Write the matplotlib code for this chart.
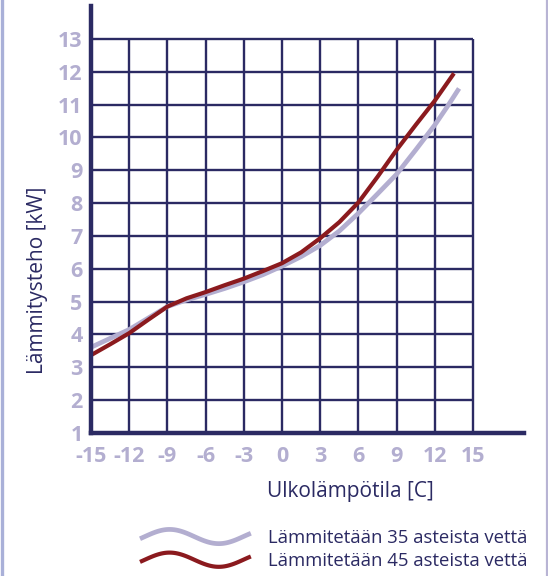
import numpy as np
import matplotlib
matplotlib.use('Agg')
from matplotlib import pyplot as plt
from matplotlib.lines import Line2D
from matplotlib.legend_handler import HandlerBase

NAVY = '#2b2a63'
LILA = '#b3aed0'
RED = '#8b1a1e'

# luettu kuvasta
x35 = [-15, -13.5, -12, -10.5, -9, -7.5, -6, -4.5, -3, -1.5, 0, 1.5, 3,
       4.5, 6, 7.5, 9, 10.5, 12, 13, 13.9]
y35 = [3.61, 3.88, 4.15, 4.5, 4.85, 5.05, 5.22, 5.4, 5.6, 5.82, 6.08, 6.37,
       6.71, 7.15, 7.69, 8.28, 8.88, 9.62, 10.38, 10.95, 11.49]
x45 = [-15, -13.5, -12, -10.5, -9, -7.5, -6, -4.5, -3, -1.5, 0, 1.5, 3,
       4.5, 6, 7.5, 9, 10.5, 12, 13.5]
y45 = [3.37, 3.7, 4.04, 4.45, 4.85, 5.1, 5.29, 5.5, 5.7, 5.93, 6.17, 6.5,
       6.93, 7.42, 8.02, 8.8, 9.62, 10.38, 11.12, 11.95]
xticks = [-15, -12, -9, -6, -3, 0, 3, 6, 9, 12, 15]
yticks = list(range(1, 14))
labels = ['Lämmitetään 35 asteista vettä', 'Lämmitetään 45 asteista vettä']


class WaveHandler(HandlerBase):
    # aaltoviiva legendaan
    def create_artists(self, legend, orig_handle, xdescent, ydescent,
                       width, height, fontsize, trans):
        t = np.linspace(-0.1 * np.pi, 2.15 * np.pi, 60)
        xs = -xdescent + width * (t - t[0]) / (t[-1] - t[0])
        ys = -ydescent + height / 2 + 0.55 * height * np.sin(t)
        ln = Line2D(xs, ys, color=orig_handle.get_color(),
                    lw=orig_handle.get_linewidth(), solid_capstyle='butt')
        ln.set_transform(trans)
        return [ln]


plt.rcParams['font.family'] = ['Open Sans', 'DejaVu Sans']
plt.rcParams['axes.unicode_minus'] = False
fig = plt.figure(figsize=(5.48, 5.76), dpi=100)
ax = fig.add_axes([91 / 548, 143 / 576, 433 / 548, 427 / 576])
ax.set_xlim(-15, 19)
ax.set_ylim(1, 14)

# reunaviivat
fig.add_artist(Line2D([1.5 / 548, 1.5 / 548], [0, 1], color='#a9b0d8', lw=2.4))
fig.add_artist(Line2D([547 / 548, 547 / 548], [0, 1], color='#b8b4d4', lw=1.6))

# ruudukko vain alueelle -15..15, 1..13
ax.hlines(yticks, -15, 15, color=NAVY, lw=1.7, zorder=1)
ax.vlines(xticks, 1, 13, color=NAVY, lw=1.7, zorder=1)

l35, = ax.plot(x35, y35, color=LILA, lw=3.4, solid_capstyle='butt',
               solid_joinstyle='round', zorder=3)
l45, = ax.plot(x45, y45, color=RED, lw=3.0, solid_capstyle='butt',
               solid_joinstyle='round', zorder=4)

for s in ['top', 'right']:
    ax.spines[s].set_visible(False)
for s in ['left', 'bottom']:
    ax.spines[s].set_color(NAVY)
    ax.spines[s].set_linewidth(3.2)
    ax.spines[s].set_zorder(5)

ax.set_xticks(xticks)
ax.set_yticks(yticks)
ax.tick_params(length=0, labelcolor=LILA, labelsize=15.5)
ax.tick_params(axis='y', pad=6)
ax.tick_params(axis='x', pad=9)
for lab in ax.get_xticklabels() + ax.get_yticklabels():
    lab.set_fontweight('bold')

fig.text(350 / 548, 1 - 492 / 576, 'Ulkolämpötila [C]', color=NAVY,
         fontsize=15, ha='center', va='center')
fig.text(38 / 548, 1 - 280 / 576, 'Lämmitysteho [kW]', color=NAVY,
         fontsize=15, ha='center', va='center', rotation=90)

fig.legend([l35, l45], labels, handler_map={Line2D: WaveHandler()},
           loc='upper left', bbox_to_anchor=(140 / 548, 1 - 529 / 576),
           frameon=False, borderpad=0, borderaxespad=0, fontsize=13.3,
           labelcolor=NAVY, handlelength=6.0, handletextpad=0.95,
           labelspacing=0.28)

fig.savefig('out.png', dpi=100)
